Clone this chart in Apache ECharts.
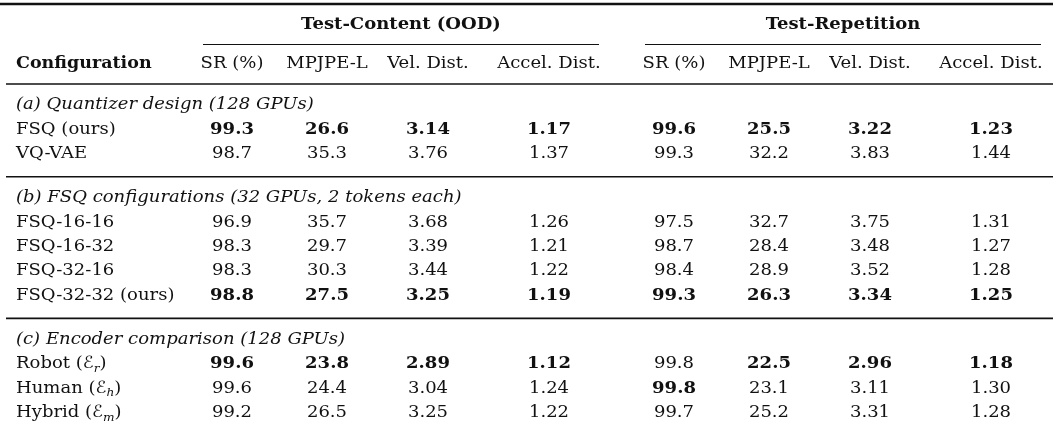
<!DOCTYPE html>
<html>
<head>
<meta charset="utf-8">
<script src="https://cdn.jsdelivr.net/npm/echarts@6/dist/echarts.min.js"></script>
<style>
  html, body { margin: 0; padding: 0; background: #fff; }
  #chart { width: 1053px; height: 440px; }
</style>
</head>
<body>
<div id="chart"></div>
<script>
// table content
var groups = ['Test-Content (OOD)', 'Test-Repetition'];
var metrics = ['SR (%)', 'MPJPE-L', 'Vel. Dist.', 'Accel. Dist.'];
var decimals = [1, 1, 2, 2];
var firstHeader = 'Configuration';

var sections = [
    '(a) Quantizer design (128 GPUs)',
    '(b) FSQ configurations (32 GPUs, 2 tokens each)',
    '(c) Encoder comparison (128 GPUs)'
];

var quantizerNames = ['FSQ (ours)', 'VQ-VAE'];
var quantizerValues = [
    [99.3, 26.6, 3.14, 1.17, 99.6, 25.5, 3.22, 1.23],
    [98.7, 35.3, 3.76, 1.37, 99.3, 32.2, 3.83, 1.44]
];
var quantizerBold = [
    [1, 1, 1, 1, 1, 1, 1, 1],
    [0, 0, 0, 0, 0, 0, 0, 0]
];

var fsqNames = ['FSQ-16-16', 'FSQ-16-32', 'FSQ-32-16', 'FSQ-32-32 (ours)'];
var fsqValues = [
    [96.9, 35.7, 3.68, 1.26, 97.5, 32.7, 3.75, 1.31],
    [98.3, 29.7, 3.39, 1.21, 98.7, 28.4, 3.48, 1.27],
    [98.3, 30.3, 3.44, 1.22, 98.4, 28.9, 3.52, 1.28],
    [98.8, 27.5, 3.25, 1.19, 99.3, 26.3, 3.34, 1.25]
];
var fsqBold = [
    [0, 0, 0, 0, 0, 0, 0, 0],
    [0, 0, 0, 0, 0, 0, 0, 0],
    [0, 0, 0, 0, 0, 0, 0, 0],
    [1, 1, 1, 1, 1, 1, 1, 1]
];

var encoderNames = ['Robot', 'Human', 'Hybrid'];
var encoderSubs = ['r', 'h', 'm'];
var encoderValues = [
    [99.6, 23.8, 2.89, 1.12, 99.8, 22.5, 2.96, 1.18],
    [99.6, 24.4, 3.04, 1.24, 99.8, 23.1, 3.11, 1.30],
    [99.2, 26.5, 3.25, 1.22, 99.7, 25.2, 3.31, 1.28]
];
var encoderBold = [
    [1, 1, 1, 1, 0, 1, 1, 1],
    [0, 0, 0, 0, 1, 0, 0, 0],
    [0, 0, 0, 0, 0, 0, 0, 0]
];

// layout (pixel units of the hidden axes)
var W = 1053, H = 440;
var FONT = '"DejaVu Serif", "Liberation Serif", serif';
var FS = 17;
var WIDEN = 1.06;
var labelX = 16;
var colX = [232, 327, 428, 549];
var groupShift = 442;
var rowStep = 24.4;

var cells = [];
var rules = [];

rules.push([0, 4, W, 4, 2.6]);
groups.forEach(function (g, gi) {
    var x0 = 203 + gi * groupShift, x1 = 599 + gi * groupShift;
    cells.push([(x0 + x1) / 2, 25, g, 'groupHead']);
    rules.push([x0, 44.5, x1, 44.5, 1.2]);
    metrics.forEach(function (m, mi) {
        cells.push([colX[mi] + gi * groupShift, 64, m, 'colHead']);
    });
});
cells.push([labelX, 64, firstHeader, 'headLeft']);
rules.push([6, 84, W, 84, 1.6]);

var blocks = [
    {names: quantizerNames, values: quantizerValues, bold: quantizerBold},
    {names: fsqNames, values: fsqValues, bold: fsqBold},
    {names: encoderNames, values: encoderValues, bold: encoderBold, subs: encoderSubs}
];

var y = 105;
blocks.forEach(function (b, bi) {
    cells.push([labelX, y, sections[bi], 'section']);
    b.names.forEach(function (name, ri) {
        var ry = y + (ri + 1) * rowStep;
        if (b.subs) {
            cells.push([labelX, ry, name + ' ({e|\u2130}{s|' + b.subs[ri] + '})', 'label']);
        } else {
            cells.push([labelX, ry, name, 'label']);
        }
        b.values[ri].forEach(function (v, ci) {
            var x = colX[ci % 4] + Math.floor(ci / 4) * groupShift;
            cells.push([x, ry, v.toFixed(decimals[ci % 4]), b.bold[ri][ci] ? 'bold' : 'num']);
        });
    });
    var last = y + b.names.length * rowStep;
    if (bi < blocks.length - 1) {
        rules.push([6, last + 23, W, last + 23, 1.6]);
        y = last + 44;
    }
});

var styles = {
    groupHead: {fontWeight: 'bold', align: 'center'},
    colHead: {fontWeight: 'normal', align: 'center'},
    headLeft: {fontWeight: 'bold', align: 'left', fontSize: 16.5},
    section: {fontStyle: 'italic', align: 'left'},
    label: {fontWeight: 'normal', align: 'left'},
    num: {fontWeight: 'normal', align: 'center'},
    bold: {fontWeight: 'bold', align: 'center'}
};

var dom = document.getElementById('chart');
var myChart = echarts.init(dom, null, {renderer: 'canvas'});

var option = {
    animation: false,
    grid: {left: 0, right: 0, top: 0, bottom: 0},
    xAxis: {type: 'value', min: 0, max: W, show: false},
    yAxis: {type: 'value', min: 0, max: H, inverse: true, show: false},
    series: [
        {
            type: 'custom',
            name: 'rules',
            data: rules,
            renderItem: function (params, api) {
                var p0 = api.coord([api.value(0), api.value(1)]);
                var p1 = api.coord([api.value(2), api.value(3)]);
                return {
                    type: 'line',
                    shape: {x1: p0[0], y1: p0[1], x2: p1[0], y2: p1[1]},
                    style: {stroke: '#111', lineWidth: api.value(4)}
                };
            }
        },
        {
            type: 'custom',
            name: 'cells',
            data: cells.map(function (c, i) { return [c[0], c[1], i]; }),
            renderItem: function (params, api) {
                var c = cells[api.value(2)];
                var st = styles[c[3]];
                var p = api.coord([c[0], c[1]]);
                return {
                    type: 'text',
                    x: p[0],
                    y: p[1],
                    scaleX: WIDEN,
                    style: {
                        text: c[2],
                        fill: '#111',
                        fontFamily: FONT,
                        fontSize: st.fontSize || FS,
                        fontWeight: st.fontWeight || 'normal',
                        fontStyle: st.fontStyle || 'normal',
                        align: st.align,
                        verticalAlign: 'middle',
                        rich: {
                            e: {fontFamily: '"DejaVu Sans", "Noto Sans", serif', fontSize: 17,
                                fill: '#111', lineHeight: 22},
                            s: {fontFamily: FONT, fontSize: 11.5, fontStyle: 'italic', fill: '#111',
                                verticalAlign: 'bottom', lineHeight: 12, padding: [8, 0, 0, 0]}
                        }
                    }
                };
            }
        }
    ]
};

if (option && typeof option === 'object') {
    myChart.setOption(option, true);
}
</script>
</body>
</html>
